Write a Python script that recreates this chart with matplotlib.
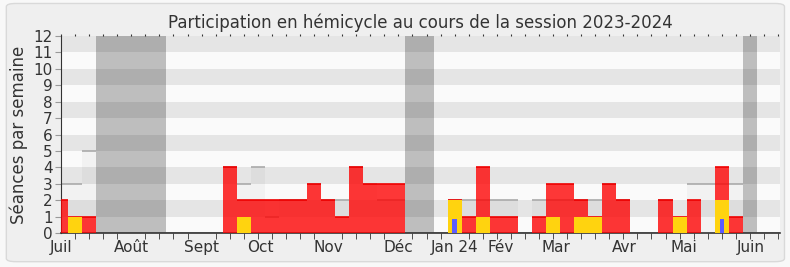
import numpy as np
import matplotlib
matplotlib.use("Agg")
import matplotlib.pyplot as plt
from matplotlib.patches import FancyBboxPatch

# données par semaine (semaine 0 = début juillet 2023)
weeks = np.arange(52)
presences = [2, 1, 1, 0, 0, 0, 0, 0, 0, 0, 0, 0, 4, 2, 2, 2, 2, 2, 3, 2, 1, 4, 3, 3, 3, 0,
             0, 0, 2, 1, 4, 1, 1, 0, 1, 3, 3, 2, 1, 3, 2, 0, 0, 2, 1, 2, 0, 4, 1, 0, 0, 0]
interventions = [0, 1, 0, 0, 0, 0, 0, 0, 0, 0, 0, 0, 0, 1, 0, 0, 0, 0, 0, 0, 0, 0, 0, 0, 0, 0,
                 0, 0, 2, 0, 1, 0, 0, 0, 0, 1, 0, 1, 1, 0, 0, 0, 0, 0, 1, 0, 0, 2, 0, 0, 0, 0]
questions = [0] * 28 + [0.85] + [0] * 18 + [0.85] + [0] * 4
mediane = [3, 3, 5, 0, 0, 0, 0, 0, 0, 0, 0, 0, 4, 3, 4, 1, 2, 2, 3, 2, 2, 4, 3, 2, 2, 0,
           0, 0, 2, 2, 2, 2, 2, 0, 2, 2, 2, 2, 2, 3, 2, 0, 0, 2, 0, 3, 3, 3, 3, 0, 0, 0]
vacances = [3, 4, 5, 6, 7, 25, 26, 49]
mois = ["Juil", "Août", "Sept", "Oct", "Nov", "Déc", "Jan 24", "Fév", "Mar", "Avr", "Mai", "Juin"]
mois_pos = [0, 5, 10, 14.2, 19, 24, 28, 31.3, 35.2, 40.1, 44.3, 49.1]

fig = plt.figure(figsize=(7.9, 2.67), dpi=100, facecolor="#f8f8f8")
fig.patches.append(FancyBboxPatch((0.008, 0.02), 0.985, 0.967, boxstyle="round,pad=0,rounding_size=0.012",
                                  transform=fig.transFigure, facecolor="#efefef", edgecolor="#d9d9d9",
                                  linewidth=1, zorder=-10))
ax = fig.add_axes([0.0772, 0.1273, 0.9101, 0.7377])
ax.set_zorder(5)
ax.set_facecolor("#fafafa")

xmax = 51.14
# bandes horizontales
for y in range(1, 12, 2):
    ax.axhspan(y, y + 1, color="#e5e5e5", lw=0, zorder=0)

# vacances
ax.bar(vacances, [12] * len(vacances), width=1, color="black", alpha=0.24, lw=0, zorder=1)

# médiane
ax.bar(weeks, mediane, width=1, color="black", alpha=0.03, lw=0, zorder=2)
ax.hlines(mediane, weeks - 0.5, weeks + 0.5, color="#aaaaaa", lw=1.2, zorder=2)

# présences, interventions, questions
ax.bar(weeks, presences, width=1, color="#ff0000", alpha=0.78, lw=0, zorder=3)
pr = np.array(presences)
ax.hlines(pr[pr > 0], weeks[pr > 0] - 0.5, weeks[pr > 0] + 0.5, color="#ee0000", lw=1.2, zorder=3)
ax.bar(weeks, interventions, width=1, color="#ffd30f", lw=0, zorder=4)
ax.bar(weeks, questions, width=0.32, color="#5c5cff", lw=0, zorder=5)

ax.set_xlim(0, xmax)
ax.set_ylim(0, 12)
ax.set_yticks(range(13))
ax.tick_params(axis="y", labelsize=11, length=4, color="#999999", labelcolor="#333333", pad=2)
ax.set_xticks(weeks, minor=True)
ax.set_xticks(mois_pos)
ax.set_xticklabels(mois)
ax.tick_params(axis="x", which="major", length=0, labelsize=11, labelcolor="#333333", pad=5)
ax.tick_params(axis="x", which="minor", length=4, color="#333333")
# petits repères en haut
sec = ax.secondary_xaxis("top")
sec.set_xticks(weeks)
sec.set_xticklabels([])
sec.tick_params(length=1.5, color="#333333", direction="out")
sec.spines["top"].set_visible(False)
for s in ["top", "right"]:
    ax.spines[s].set_visible(False)
ax.spines["left"].set_color("#333333")
ax.spines["bottom"].set_color("#333333")
ax.spines["bottom"].set_linewidth(1.2)

ax.set_ylabel("Séances par semaine", fontsize=12, color="#333333", labelpad=4)
ax.set_title("Participation en hémicycle au cours de la session 2023-2024", fontsize=12,
             color="#333333", pad=6)

fig.savefig("out.png", dpi=100, facecolor=fig.get_facecolor())
